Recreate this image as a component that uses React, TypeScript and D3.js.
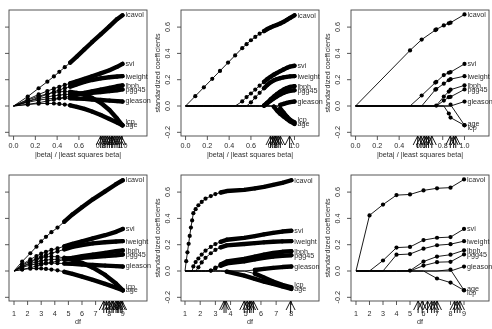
import React from "react";
import * as d3 from "d3";

const predictors = ["lcavol", "lweight", "age", "lbph", "svi", "lcp", "gleason", "pgg45"];

// ridge path: one entry per penalty value, coefficient columns follow `predictors`
const ridgeFrac = [0, 0.13, 0.23, 0.31, 0.37, 0.42, 0.47, 0.52, 0.58, 0.65, 0.72, 0.8, 0.88, 0.95, 1.0];
const ridgeDf = [1, 1.6, 2.2, 2.65, 3.0, 3.35, 3.75, 4.2, 4.7, 5.3, 6.0, 6.8, 7.7, 8.5, 9.0];
const ridgeCoef = [
  [0, 0, 0, 0, 0, 0, 0, 0],
  [0.072, 0.035, 0.012, 0.012, 0.05, 0.045, 0.028, 0.034],
  [0.135, 0.065, 0.018, 0.025, 0.088, 0.075, 0.045, 0.056],
  [0.185, 0.09, 0.02, 0.038, 0.114, 0.092, 0.054, 0.07],
  [0.225, 0.108, 0.019, 0.048, 0.132, 0.102, 0.058, 0.078],
  [0.26, 0.122, 0.016, 0.057, 0.146, 0.108, 0.06, 0.083],
  [0.295, 0.136, 0.011, 0.066, 0.16, 0.11, 0.06, 0.087],
  [0.33, 0.148, 0.005, 0.075, 0.172, 0.108, 0.059, 0.09],
  [0.375, 0.165, -0.006, 0.087, 0.188, 0.1, 0.057, 0.093],
  [0.43, 0.183, -0.022, 0.1, 0.207, 0.085, 0.054, 0.097],
  [0.485, 0.198, -0.042, 0.112, 0.226, 0.062, 0.05, 0.101],
  [0.545, 0.21, -0.068, 0.125, 0.248, 0.025, 0.046, 0.106],
  [0.605, 0.219, -0.098, 0.138, 0.272, -0.03, 0.041, 0.113],
  [0.66, 0.224, -0.126, 0.15, 0.298, -0.095, 0.037, 0.12],
  [0.69, 0.227, -0.146, 0.157, 0.32, -0.147, 0.034, 0.126],
];

// lasso path
const lassoFrac = [0, 0.089, 0.168, 0.245, 0.316, 0.39, 0.455, 0.52, 0.56, 0.6, 0.64, 0.68, 0.72, 0.75, 0.78, 0.81, 0.84, 0.87, 0.9, 0.93, 0.96, 1.0];
const lassoDf = [1, 1.08, 1.16, 1.24, 1.31, 1.39, 1.47, 1.55, 1.7, 1.88, 2.1, 2.35, 2.7, 3.0, 3.35, 3.75, 4.9, 5.6, 6.2, 6.8, 7.4, 8.0];
const lassoCoef = [
  [0, 0, 0, 0, 0, 0, 0, 0],
  [0.075, 0, 0, 0, 0, 0, 0, 0],
  [0.142, 0, 0, 0, 0, 0, 0, 0],
  [0.207, 0, 0, 0, 0, 0, 0, 0],
  [0.267, 0, 0, 0, 0, 0, 0, 0],
  [0.33, 0, 0, 0, 0, 0, 0, 0],
  [0.385, 0, 0, 0, 0, 0, 0, 0],
  [0.44, 0, 0, 0, 0.035, 0, 0, 0],
  [0.47, 0, 0, 0, 0.068, 0, 0, 0],
  [0.5, 0.028, 0, 0, 0.095, 0, 0, 0],
  [0.525, 0.065, 0, 0, 0.125, 0, 0, 0],
  [0.55, 0.1, 0, 0, 0.155, 0, 0, 0],
  [0.57, 0.135, 0, 0.003, 0.183, 0, 0, 0.003],
  [0.585, 0.16, 0, 0.025, 0.205, 0, 0, 0.02],
  [0.597, 0.18, 0, 0.05, 0.222, 0, 0, 0.04],
  [0.608, 0.195, -0.005, 0.072, 0.238, 0, 0, 0.058],
  [0.617, 0.205, -0.035, 0.092, 0.252, 0, 0, 0.074],
  [0.628, 0.212, -0.06, 0.11, 0.265, -0.02, 0.008, 0.088],
  [0.64, 0.218, -0.08, 0.125, 0.278, -0.05, 0.016, 0.1],
  [0.655, 0.222, -0.098, 0.137, 0.29, -0.08, 0.024, 0.11],
  [0.67, 0.225, -0.117, 0.146, 0.3, -0.105, 0.03, 0.116],
  [0.69, 0.227, -0.136, 0.151, 0.306, -0.125, 0.034, 0.12],
];

// forward stepwise, one entry per model size
const stepFrac = [0, 0.5, 0.607, 0.732, 0.741, 0.81, 0.856, 0.872, 1.0];
const stepDf = [1, 2, 3, 4, 5, 6, 7, 8, 9];
const stepCoef = [
  [0, 0, 0, 0, 0, 0, 0, 0],
  [0.423, 0, 0, 0, 0, 0, 0, 0],
  [0.505, 0, 0, 0, 0.08, 0, 0, 0],
  [0.577, 0.124, 0, 0, 0.178, 0, 0, 0],
  [0.582, 0.129, 0, 0.003, 0.183, 0, 0, 0],
  [0.613, 0.17, 0, 0.072, 0.235, 0, 0, 0.041],
  [0.629, 0.196, 0, 0.11, 0.253, -0.057, 0, 0.067],
  [0.634, 0.204, 0.01, 0.124, 0.258, -0.088, 0, 0.07],
  [0.696, 0.227, -0.146, 0.157, 0.32, -0.147, 0.034, 0.126],
];

// where the variable names sit at the right edge
const ridgeLabelY = [0.697, 0.228, -0.141, 0.156, 0.32, -0.115, 0.044, 0.126];
const lassoLabelY = [0.69, 0.228, -0.136, 0.151, 0.306, -0.105, 0.036, 0.12];
const stepLabelY = [0.698, 0.227, -0.134, 0.157, 0.32, -0.164, 0.034, 0.126];

// arrow marks under the x axis
const ridgeArrowFrac = [0.8, 0.82, 0.84, 0.86, 0.88, 0.9, 0.91, 0.93, 0.95, 0.97, 0.99];
const ridgeArrowDf = [7.6, 7.8, 8.0, 8.2, 8.3, 8.5, 8.6, 8.7, 8.85, 8.95];
const lassoArrowFrac = [0.78, 0.8, 0.82, 0.83, 0.85, 0.87, 0.955];
const lassoArrowDf = [3.57, 3.7, 4.9, 5.1, 5.25, 5.35, 5.5, 7.95];
const stepArrowFrac = [0.57, 0.6, 0.63, 0.65, 0.67, 0.7, 0.87, 0.9, 0.92];
const stepArrowDf = [5.6, 5.9, 6.3, 6.6, 6.8, 7.0, 8.3, 8.5, 8.7];

const fracTicks = [0, 0.2, 0.4, 0.6, 0.8, 1.0];
const coefTicks = [-0.2, 0, 0.2, 0.4, 0.6];

const FONT = "'Liberation Sans', Arial, Helvetica, sans-serif";
const BOX_W = 138;
const BOX_H = 126;
const INK = "#2a2a2a";

type PanelProps = {
  left: number;
  top: number;
  xDomain: [number, number];
  xTicks: number[];
  xFmt: (v: number) => string;
  xTitle: string;
  xs: number[];
  coef: number[][];
  dense: number;
  labelY: number[];
  arrows: number[];
  tickGap: number;
  titleGap: number;
};

function Panel(p: PanelProps) {
  const x = d3.scaleLinear().domain(p.xDomain).range([p.left, p.left + BOX_W]);
  const y = d3.scaleLinear().domain([-0.228, 0.73]).range([p.top + BOX_H, p.top]);
  const line = d3
    .line<[number, number]>()
    .x((d) => x(d[0]))
    .y((d) => y(d[1]));
  const bottom = p.top + BOX_H;
  const lastX = x(p.xs[p.xs.length - 1]);

  return (
    <g>
      {predictors.map((name, j) => {
        const pts: [number, number][] = p.xs.map((xv, i) => [xv, p.coef[i][j]]);
        // rows past `dense` are packed so tightly that the dots merge into a band
        const bandPts = pts.filter((d, i) => i >= p.dense && d[1] !== 0);
        return (
          <g key={name}>
            <path d={line(pts) ?? ""} fill="none" stroke="#000" strokeWidth={0.9} />
            {bandPts.length > 1 && (
              <path
                d={line(bandPts) ?? ""}
                fill="none"
                stroke="#000"
                strokeWidth={4.4}
                strokeLinecap="round"
                strokeLinejoin="round"
              />
            )}
            {pts
              .filter((d) => d[1] !== 0)
              .map((d, i) => (
                <circle key={i} cx={x(d[0])} cy={y(d[1])} r={2.1} fill="#000" />
              ))}
          </g>
        );
      })}

      <rect x={p.left} y={p.top} width={BOX_W} height={BOX_H} fill="none" stroke="#444" strokeWidth={0.9} />

      {coefTicks.map((t) => (
        <line key={t} x1={p.left} x2={p.left - 4} y1={y(t)} y2={y(t)} stroke="#444" strokeWidth={0.9} />
      ))}
      {p.xTicks.map((t) => (
        <line key={t} x1={x(t)} x2={x(t)} y1={bottom} y2={bottom + 4} stroke="#444" strokeWidth={0.9} />
      ))}

      <g opacity={0.99} fontSize={7.2} fontFamily={FONT} fill={INK}>
        {predictors.map((name, j) => (
          <text key={name} x={lastX + 3} y={y(p.labelY[j])} dy="0.35em">
            {name}
          </text>
        ))}
        {coefTicks.map((t) => (
          <text key={t} transform={`translate(${p.left - 11},${y(t)}) rotate(-90)`} textAnchor="middle">
            {t.toFixed(1)}
          </text>
        ))}
        <text transform={`translate(${p.left - 21},${p.top + BOX_H / 2}) rotate(-90)`} textAnchor="middle">
          standardized coefficients
        </text>
        {p.xTicks.map((t) => (
          <text key={t} x={x(t)} y={bottom + p.tickGap} dy="0.35em" textAnchor="middle">
            {p.xFmt(t)}
          </text>
        ))}
        <text x={p.left + BOX_W / 2} y={bottom + p.titleGap} dy="0.35em" textAnchor="middle">
          {p.xTitle}
        </text>
      </g>

      {p.arrows.map((a, i) => {
        const ax = x(a);
        return (
          <path
            key={i}
            d={`M${ax},${bottom + 12}L${ax},${bottom}M${ax - 4.5},${bottom + 9}L${ax},${bottom}L${ax + 4.5},${bottom + 9}`}
            fill="none"
            stroke="#000"
            strokeWidth={0.9}
          />
        );
      })}
    </g>
  );
}

const colLeft = [9, 181, 351];
const rowTop = [10, 175];
const fracDomain: [number, number] = [-0.042, 1.225];
const fracFmt = (v: number) => v.toFixed(1);
const dfFmt = (v: number) => String(v);
const fracTitle = "|beta| / |least squares beta|";

export default function App() {
  return (
    <svg width={492} height={329} style={{ position: "absolute", left: 0, top: 0, background: "#fff" }}>
      <Panel left={colLeft[0]} top={rowTop[0]} xDomain={fracDomain} xTicks={fracTicks} xFmt={fracFmt}
        xTitle={fracTitle} xs={ridgeFrac} coef={ridgeCoef} dense={7} labelY={ridgeLabelY}
        arrows={ridgeArrowFrac} tickGap={9.5} titleGap={18.5} />
      <Panel left={colLeft[1]} top={rowTop[0]} xDomain={fracDomain} xTicks={fracTicks} xFmt={fracFmt}
        xTitle={fracTitle} xs={lassoFrac} coef={lassoCoef} dense={12} labelY={lassoLabelY}
        arrows={lassoArrowFrac} tickGap={9.5} titleGap={18.5} />
      <Panel left={colLeft[2]} top={rowTop[0]} xDomain={fracDomain} xTicks={fracTicks} xFmt={fracFmt}
        xTitle={fracTitle} xs={stepFrac} coef={stepCoef} dense={99} labelY={stepLabelY}
        arrows={stepArrowFrac} tickGap={9.5} titleGap={18.5} />
      <Panel left={colLeft[0]} top={rowTop[1]} xDomain={[0.632, 10.78]} xTicks={d3.range(1, 10)} xFmt={dfFmt}
        xTitle="df" xs={ridgeDf} coef={ridgeCoef} dense={8} labelY={ridgeLabelY}
        arrows={ridgeArrowDf} tickGap={12} titleGap={20} />
      <Panel left={colLeft[1]} top={rowTop[1]} xDomain={[0.737, 9.82]} xTicks={d3.range(1, 9)} xFmt={dfFmt}
        xTitle="df" xs={lassoDf} coef={lassoCoef} dense={14} labelY={lassoLabelY}
        arrows={lassoArrowDf} tickGap={12} titleGap={20} />
      <Panel left={colLeft[2]} top={rowTop[1]} xDomain={[0.63, 10.85]} xTicks={d3.range(1, 10)} xFmt={dfFmt}
        xTitle="df" xs={stepDf} coef={stepCoef} dense={99} labelY={stepLabelY}
        arrows={stepArrowDf} tickGap={12} titleGap={20} />
    </svg>
  );
}
